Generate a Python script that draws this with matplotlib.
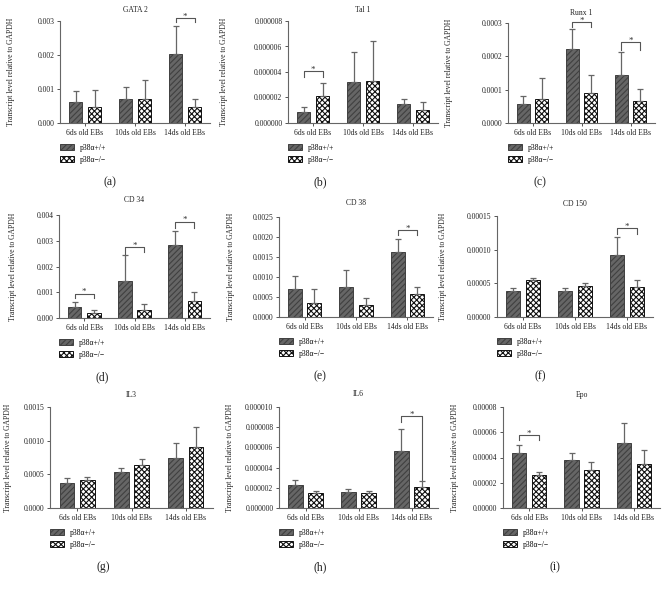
import matplotlib
matplotlib.use('Agg')
import matplotlib.pyplot as plt
from matplotlib.patches import Patch
import numpy as np

plt.rcParams['font.family'] = ['Liberation Serif', 'DejaVu Serif']
plt.rcParams['hatch.linewidth'] = 0.8

groups = ['6ds old EBs', '10ds old EBs', '14ds old EBs']
legend_labels = ['p38\u03b1+/+', 'p38\u03b1\u2212/\u2212']
titles = ['GATA 2', 'Tal 1', 'Runx 1', 'CD 34', 'CD 38', 'CD 150', 'IL3', 'IL6', 'Epo']
letters = ['(a)', '(b)', '(c)', '(d)', '(e)', '(f)', '(g)', '(h)', '(i)']

# mean and top of error bar (mean + SD), one row per panel
wt_mean = [[0.00062, 0.00070, 0.00202],
           [0.89e-6, 3.20e-6, 1.49e-6],
           [0.58e-4, 2.23e-4, 1.43e-4],
           [0.00043, 0.00142, 0.00283],
           [0.00071, 0.00075, 0.00163],
           [3.9e-5, 3.9e-5, 9.2e-5],
           [0.00037, 0.00053, 0.00074],
           [2.26e-6, 1.60e-6, 5.60e-6],
           [4.38e-5, 3.78e-5, 5.14e-5]]
wt_top = [[0.00093, 0.00107, 0.00284],
          [1.22e-6, 5.60e-6, 1.88e-6],
          [0.80e-4, 2.82e-4, 2.12e-4],
          [0.00064, 0.00243, 0.00339],
          [0.00103, 0.00118, 0.00196],
          [4.3e-5, 4.34e-5, 1.19e-4],
          [0.00044, 0.00059, 0.00097],
          [2.79e-6, 1.90e-6, 7.87e-6],
          [4.96e-5, 4.33e-5, 6.71e-5]]
ko_mean = [[0.00047, 0.00071, 0.00046],
           [2.11e-6, 3.26e-6, 1.02e-6],
           [0.73e-4, 0.91e-4, 0.65e-4],
           [0.00021, 0.00032, 0.00065],
           [0.00035, 0.00030, 0.00057],
           [5.53e-5, 4.64e-5, 4.44e-5],
           [0.00041, 0.00064, 0.00091],
           [1.48e-6, 1.48e-6, 2.10e-6],
           [2.60e-5, 3.02e-5, 3.51e-5]]
ko_top = [[0.00097, 0.00126, 0.00071],
          [3.13e-6, 6.46e-6, 1.62e-6],
          [1.34e-4, 1.45e-4, 1.02e-4],
          [0.00032, 0.00056, 0.00101],
          [0.00071, 0.00047, 0.00076],
          [5.82e-5, 5.08e-5, 5.43e-5],
          [0.00046, 0.00073, 0.00120],
          [1.70e-6, 1.70e-6, 2.69e-6],
          [2.83e-5, 3.65e-5, 4.56e-5]]

y_max = [0.003, 8e-6, 3e-4, 0.004, 0.0025, 1.5e-4, 0.0015, 1e-5, 8e-5]
y_step = [0.001, 2e-6, 1e-4, 0.001, 5e-4, 5e-5, 5e-4, 2e-6, 2e-5]
y_decimals = [3, 6, 4, 3, 4, 5, 4, 6, 5]

# significance brackets: panel, group, line height, left leg end, right leg end
brackets = [(0, 2, 0.00308, 0.00297, 0.00297),
            (1, 0, 4.04e-6, 3.57e-6, 3.57e-6),
            (2, 1, 3.03e-4, 2.88e-4, 2.88e-4),
            (2, 2, 2.43e-4, 2.20e-4, 2.20e-4),
            (3, 0, 0.00095, 0.00079, 0.00079),
            (3, 1, 0.00274, 0.00250, 0.00256),
            (3, 2, 0.00374, 0.00350, 0.00350),
            (4, 2, 0.00217, 0.00206, 0.00206),
            (5, 2, 1.32e-4, 1.24e-4, 1.24e-4),
            (7, 2, 9.1e-6, 8.5e-6, 2.8e-6),
            (8, 0, 5.77e-5, 5.38e-5, 5.38e-5)]

# axes boxes in pixels: left, top, right, bottom
boxes = [(60, 21, 210, 123), (288, 21, 438, 123), (508, 23, 655, 123),
         (59, 215, 210, 318), (279, 217, 433, 317), (497, 216, 653, 317),
         (50, 407, 213, 508), (279, 407, 438, 508), (503, 407, 660, 508)]
ylabel_x = [15, 228, 453, 17, 235, 447, 12, 234, 459]
title_y = [10, 10, 13, 200, 203, 204, 395, 394, 395]
letter_x = [110, 320, 540, 102, 320, 540, 103, 320, 555]

W, H = 669, 590
fig = plt.figure(figsize=(W / 100, H / 100), dpi=100)

FS = 5.5
wt_style = dict(facecolor='#666666', edgecolor='#404040', hatch='//////', linewidth=0.7)
ko_style = dict(facecolor='white', edgecolor='#111111', hatch='xxxxxx', linewidth=0.7)
x = np.arange(len(groups))
off, bw = 0.19, 0.27

axes = []
for i in range(9):
    l, t, r, b = boxes[i]
    ax = fig.add_axes([l / W, 1 - b / H, (r - l) / W, (b - t) / H])
    axes.append(ax)
    wm, wtp = np.array(wt_mean[i]), np.array(wt_top[i])
    km, ktp = np.array(ko_mean[i]), np.array(ko_top[i])
    ax.bar(x - off, wm, bw, **wt_style)
    ax.bar(x + off, km, bw, **ko_style)
    ax.errorbar(x - off, wm, yerr=[np.zeros(3), wtp - wm], fmt='none',
                ecolor='#666666', elinewidth=0.9, capsize=2.2, capthick=0.9)
    ax.errorbar(x + off, km, yerr=[np.zeros(3), ktp - km], fmt='none',
                ecolor='#666666', elinewidth=0.9, capsize=2.2, capthick=0.9)

    ax.set_xlim(-0.5, 2.5)
    ax.set_ylim(0, y_max[i])
    ticks = np.arange(0, y_max[i] + y_step[i] / 2, y_step[i])
    ax.set_yticks(ticks)
    ax.set_yticklabels([f'{v:.{y_decimals[i]}f}' for v in ticks])
    ax.set_xticks(x)
    ax.set_xticklabels(groups)
    ax.tick_params(labelsize=FS, colors='#555555', labelcolor='#222222',
                   length=2, width=0.7, pad=2)
    for s in ['top', 'right']:
        ax.spines[s].set_visible(False)
    for s in ['left', 'bottom']:
        ax.spines[s].set_color('#666666')
        ax.spines[s].set_linewidth(0.8)

    fig.text((l + r) / 2 / W, 1 - title_y[i] / H, titles[i], fontsize=FS,
             ha='center', va='center', color='#222222')
    ax.set_ylabel('Transcript level relative to GAPDH', fontsize=FS, color='#222222')
    ax.yaxis.set_label_coords((ylabel_x[i] - l) / (r - l), 0.5)

    handles = [Patch(**wt_style), Patch(**ko_style)]
    ax.legend(handles, legend_labels, loc='upper left', frameon=False,
              bbox_to_anchor=(l / W, 1 - (b + 21) / H), bbox_transform=fig.transFigure,
              fontsize=FS, borderaxespad=0, borderpad=0, handlelength=1.8,
              handleheight=0.8, handletextpad=0.8, labelspacing=0.5)
    fig.text(letter_x[i] / W, 1 - (b + 59) / H, letters[i], fontsize=8.5,
             ha='center', va='center', color='#222222')

for p, g, yl, y1, y2 in brackets:
    ax = axes[p]
    xs = [g - off, g - off, g + off, g + off]
    ys = [y1, yl, yl, y2]
    ax.plot(xs, ys, color='#555555', lw=0.8, clip_on=False)
    ax.annotate('*', xy=(g, yl), xytext=(0, 1), textcoords='offset points',
                ha='center', va='center', fontsize=FS + 1, color='#333333',
                annotation_clip=False)

fig.savefig('out.png', dpi=100)
